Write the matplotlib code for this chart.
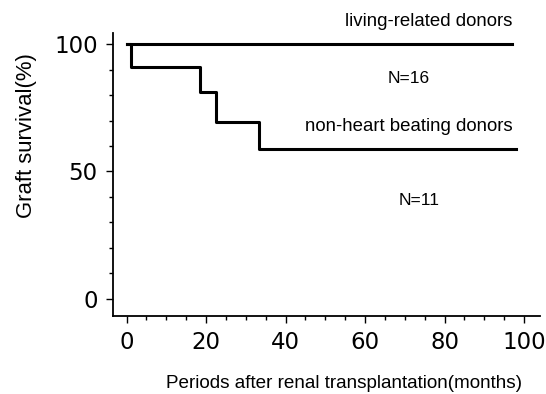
import matplotlib
matplotlib.use("Agg")
import matplotlib.pyplot as plt
from matplotlib.ticker import MultipleLocator

# Data (step curves)
living_x = [0, 97]
living_y = [100, 100]
nhb_x = [0, 1, 18.4, 22.6, 33.3, 98]
nhb_y = [100, 91, 81, 69.5, 59, 59]

x_ticks = [0, 20, 40, 60, 80, 100]
y_ticks = [0, 50, 100]

fig = plt.figure(figsize=(5.46, 3.94), dpi=100)
ax = fig.add_axes([0.207, 0.198, 0.989 - 0.207, 0.916 - 0.198])

ax.step(living_x, living_y, where='post', color='black', lw=2.2)
ax.step(nhb_x, nhb_y, where='post', color='black', lw=2.2)

ax.set_xlim(-3.4, 104)
ax.set_ylim(-6.7, 104.3)
ax.set_xticks(x_ticks)
ax.set_yticks(y_ticks)
ax.xaxis.set_minor_locator(MultipleLocator(5))
ax.yaxis.set_minor_locator(MultipleLocator(10))
ax.tick_params(which='major', direction='out', length=5, width=1, labelsize=16.5, pad=6)
ax.tick_params(which='minor', direction='out', length=3, width=1)
for s in ['top', 'right']:
    ax.spines[s].set_visible(False)
for s in ['left', 'bottom']:
    ax.spines[s].set_linewidth(1.3)
for lab in ax.get_xticklabels() + ax.get_yticklabels():
    lab.set_family('DejaVu Sans')

tf = 'Liberation Sans'
ax.text(76, 109, 'living-related donors', ha='center', va='center', fontsize=13.4, family=tf)
ax.text(71, 86.3, 'N=16', ha='center', va='center', fontsize=12.5, family=tf)
ax.text(71, 67.6, 'non-heart beating donors', ha='center', va='center', fontsize=13.4, family=tf)
ax.text(73.6, 38.8, 'N=11', ha='center', va='center', fontsize=12.5, family=tf)

fig.text(344 / 546, 1 - 383 / 394, 'Periods after renal transplantation(months)',
         ha='center', va='center', fontsize=13.6, family=tf)
fig.text(27 / 546, 1 - 136 / 394, 'Graft survival(%)', ha='center', va='center',
         rotation=90, fontsize=15.9, family=tf)

fig.savefig('out.png', dpi=100)
